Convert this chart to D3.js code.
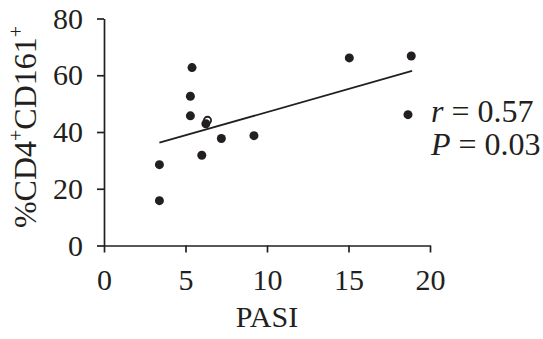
<!DOCTYPE html>
<html>
<head>
<meta charset="utf-8">
<script src="https://cdn.jsdelivr.net/npm/d3@7"></script>
<style>
  html, body { margin: 0; padding: 0; background: #fff; }
  svg { display: block; }
  text { font-family: "Liberation Serif", "Times New Roman", serif; fill: #231f20; }
</style>
</head>
<body>
<svg id="chart" width="543" height="339"></svg>
<script>
// PASI score vs. percentage of CD4+CD161+ cells, one entry per patient
const pasi   = [3.4, 3.4, 5.4, 5.3, 5.3, 6.35, 6.25, 6.0, 7.2, 9.2, 15.05, 18.85, 18.65];
const cd161  = [15.8, 28.5, 62.7, 52.6, 45.7, 44.1, 42.9, 31.8, 37.7, 38.7, 66.1, 66.8, 46.1];
const hollow = [false, false, false, false, false, true, false, false, false, false, false, false, false];

// Linear fit: intercept, slope, and the PASI span it is drawn over
const fitCoef = [30.7, 1.63];
const fitSpan = [3.4, 18.9];

const xTicks = [0, 5, 10, 15, 20];
const yTicks = [0, 20, 40, 60, 80];
const stats = [["r", " = 0.57"], ["P", " = 0.03"]];

const ink = "#231f20";
const serif = '"Liberation Serif", "Times New Roman", serif';
const svg = d3.select("#chart");

const x = d3.scaleLinear().domain([0, 20]).range([104, 430]);
const y = d3.scaleLinear().domain([0, 80]).range([245.5, 18.5]);

const xAxis = svg.append("g")
  .attr("transform", `translate(0,${y(0)})`)
  .call(d3.axisBottom(x).tickValues(xTicks).tickSize(7).tickSizeOuter(0).tickPadding(16));

const yAxis = svg.append("g")
  .attr("transform", `translate(${x(0)},0)`)
  .call(d3.axisLeft(y).tickValues(yTicks).tickSize(7).tickSizeOuter(0).tickPadding(14));

[xAxis, yAxis].forEach(g => {
  g.attr("font-family", serif).attr("font-size", 30);
  g.selectAll("path, line").attr("stroke", ink).attr("stroke-width", 1.7);
  g.selectAll("text").attr("fill", ink);
});

// Fit line
svg.append("line")
  .attr("x1", x(fitSpan[0])).attr("y1", y(fitCoef[0] + fitCoef[1] * fitSpan[0]))
  .attr("x2", x(fitSpan[1])).attr("y2", y(fitCoef[0] + fitCoef[1] * fitSpan[1]))
  .attr("stroke", ink).attr("stroke-width", 1.8);

// Patients
const pts = pasi.map((v, i) => ({ px: v, py: cd161[i], open: hollow[i] }));
svg.append("g").selectAll("circle")
  .data(pts.filter(d => d.open).concat(pts.filter(d => !d.open)))
  .join("circle")
  .attr("cx", d => x(d.px))
  .attr("cy", d => y(d.py))
  .attr("r", d => d.open ? 3.6 : 4.5)
  .attr("fill", d => d.open ? "#fff" : ink)
  .attr("stroke", ink)
  .attr("stroke-width", d => d.open ? 1.8 : 0);

// Axis titles
svg.append("text")
  .attr("x", 267).attr("y", 327)
  .attr("text-anchor", "middle")
  .style("font-size", "30px")
  .text("PASI");

const yTitle = svg.append("text")
  .attr("transform", `translate(36,${127}) rotate(-90)`)
  .attr("text-anchor", "middle")
  .style("font-size", "32px");
yTitle.append("tspan").text("%CD4");
yTitle.append("tspan").attr("dy", -13).style("font-size", "20px").text("+");
yTitle.append("tspan").attr("dy", 13).text("CD161");
yTitle.append("tspan").attr("dy", -13).style("font-size", "20px").text("+");

// Correlation statistics
stats.forEach((s, i) => {
  const t = svg.append("text")
    .attr("x", 431).attr("y", 122 + i * 33)
    .style("font-size", "32px");
  t.append("tspan").style("font-style", "italic").text(s[0]);
  t.append("tspan").text(s[1]);
});
</script>
</body>
</html>
